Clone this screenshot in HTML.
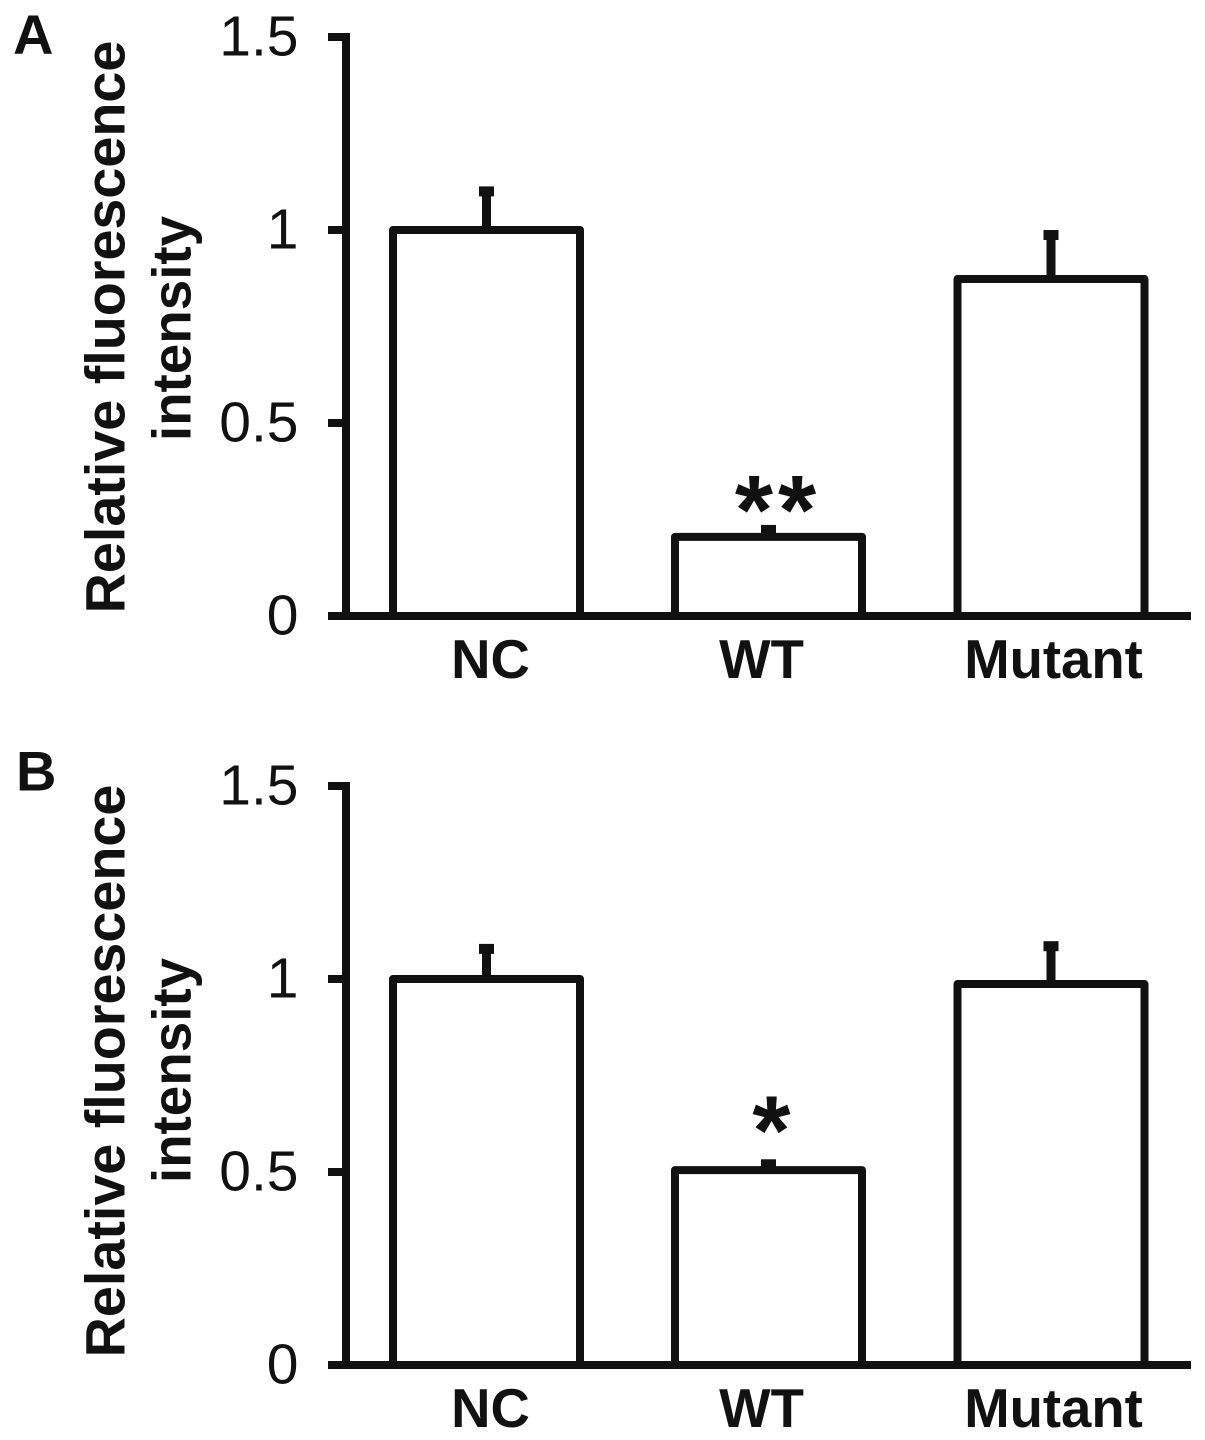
<!DOCTYPE html>
<html lang="en">
<head>
<meta charset="utf-8">
<title>Relative fluorescence intensity</title>
<style>
html,body{margin:0;padding:0;background:#fff;width:1205px;height:1440px;overflow:hidden}
svg{display:block;font-family:"Liberation Sans",Arial,sans-serif}
</style>
</head>
<body>
<svg id="fig" xmlns="http://www.w3.org/2000/svg" width="1205" height="1440" viewBox="0 0 1205 1440"></svg>
<script>
const categories = ["NC", "WT", "Mutant"];
const tickLabels = ["0", "0.5", "1", "1.5"];
const tickValues = [0, 0.5, 1, 1.5];
const panelNames = ["A", "B"];
const valuesA = [1, 0.205, 0.873];
const errorsA = [1.1, 0.223, 0.987];
const starsA = ["", "**", ""];
const valuesB = [1, 0.505, 0.987];
const errorsB = [1.078, 0.52, 1.085];
const starsB = ["", "*", ""];

const svg = document.getElementById('fig');
const NS = 'http://www.w3.org/2000/svg';
const barCenters = [486.5, 768.5, 1051];
const labelCenters = [490.5, 761.5, 1053.5];
const barWidth = 187;

function make(tag, attrs, text) {
  const el = document.createElementNS(NS, tag);
  for (const k in attrs) el.setAttribute(k, attrs[k]);
  if (text !== undefined) el.textContent = text;
  return el;
}

function drawPanel(letter, values, errors, stars, baseY, top, opts) {
  const unit = (baseY - top) / 1.5;
  const y = v => baseY - v * unit;
  const g = make('g', {});
  
  
  svg.appendChild(g);

  const label = make('text', {x: opts.labelX, y: opts.labelY, 'font-size': 56, 'font-weight': 'bold', fill: '#111'}, letter);
  
  
  g.appendChild(label);

  const t1 = make('text', {transform: 'translate(124.5,' + opts.titleY + ') rotate(-90)', 'text-anchor': 'middle', 'font-size': 55.7, 'font-weight': 'bold', fill: '#111'}, 'Relative fluorescence');
  
  
  g.appendChild(t1);
  const t2 = make('text', {transform: 'translate(190.5,' + opts.title2Y + ') rotate(-90)', 'text-anchor': 'middle', 'font-size': 54.8, 'font-weight': 'bold', fill: '#111'}, 'intensity');
  
  
  g.appendChild(t2);

  categories.forEach((c, i) => {
    const cx = barCenters[i];
    const stem = make('line', {x1: cx, x2: cx, y1: y(values[i]), y2: y(errors[i]), stroke: '#111', 'stroke-width': 9});
    
    
    g.appendChild(stem);
    const cap = make('line', {x1: cx - 7.5, x2: cx + 7.5, y1: y(errors[i]), y2: y(errors[i]), stroke: '#111', 'stroke-width': 10});
    
    
    g.appendChild(cap);
    const bar = make('rect', {x: cx - barWidth / 2, y: y(values[i]), width: barWidth, height: baseY - y(values[i]), fill: '#fff', stroke: '#111', 'stroke-width': 8, 'stroke-linejoin': 'round'});
    
    
    g.appendChild(bar);
    const cat = make('text', {x: labelCenters[i], y: baseY + 62, 'text-anchor': 'middle', 'font-size': 54.5, 'font-weight': 'bold', fill: '#111'}, c);
    
    
    g.appendChild(cat);
    if (stars[i]) {
      const s = make('text', {x: cx + opts.starDx, y: y(errors[i]) + opts.starDy, 'text-anchor': 'middle', 'font-size': 98, 'font-weight': 'bold', 'letter-spacing': 5, fill: '#111'}, stars[i]);
      
      
      g.appendChild(s);
    }
  });

  const yAxis = make('line', {x1: 346, x2: 346, y1: top - 4, y2: baseY + 4, stroke: '#111', 'stroke-width': 8});
  
  
  g.appendChild(yAxis);
  const xAxis = make('line', {x1: 328, x2: 1191, y1: baseY, y2: baseY, stroke: '#111', 'stroke-width': 8});
  
  
  g.appendChild(xAxis);

  tickValues.forEach((v, i) => {
    const tick = make('line', {x1: 328, x2: 346, y1: y(v), y2: y(v), stroke: '#111', 'stroke-width': 8});
    
    
    g.appendChild(tick);
    const tl = make('text', {x: 298.5, y: y(v) + 18.5, 'text-anchor': 'end', 'font-size': 57, fill: '#111'}, tickLabels[i]);
    
    
    g.appendChild(tl);
  });
}

drawPanel(panelNames[0], valuesA, errorsA, starsA, 616, 37, {labelX: 13, labelY: 54, titleY: 327, title2Y: 328.5, starDx: 9.5, starDy: 14});
drawPanel(panelNames[1], valuesB, errorsB, starsB, 1365, 786, {labelX: 16, labelY: 790.5, titleY: 1071, title2Y: 1070.5, starDx: 5.5, starDy: 0});
</script>
</body>
</html>
